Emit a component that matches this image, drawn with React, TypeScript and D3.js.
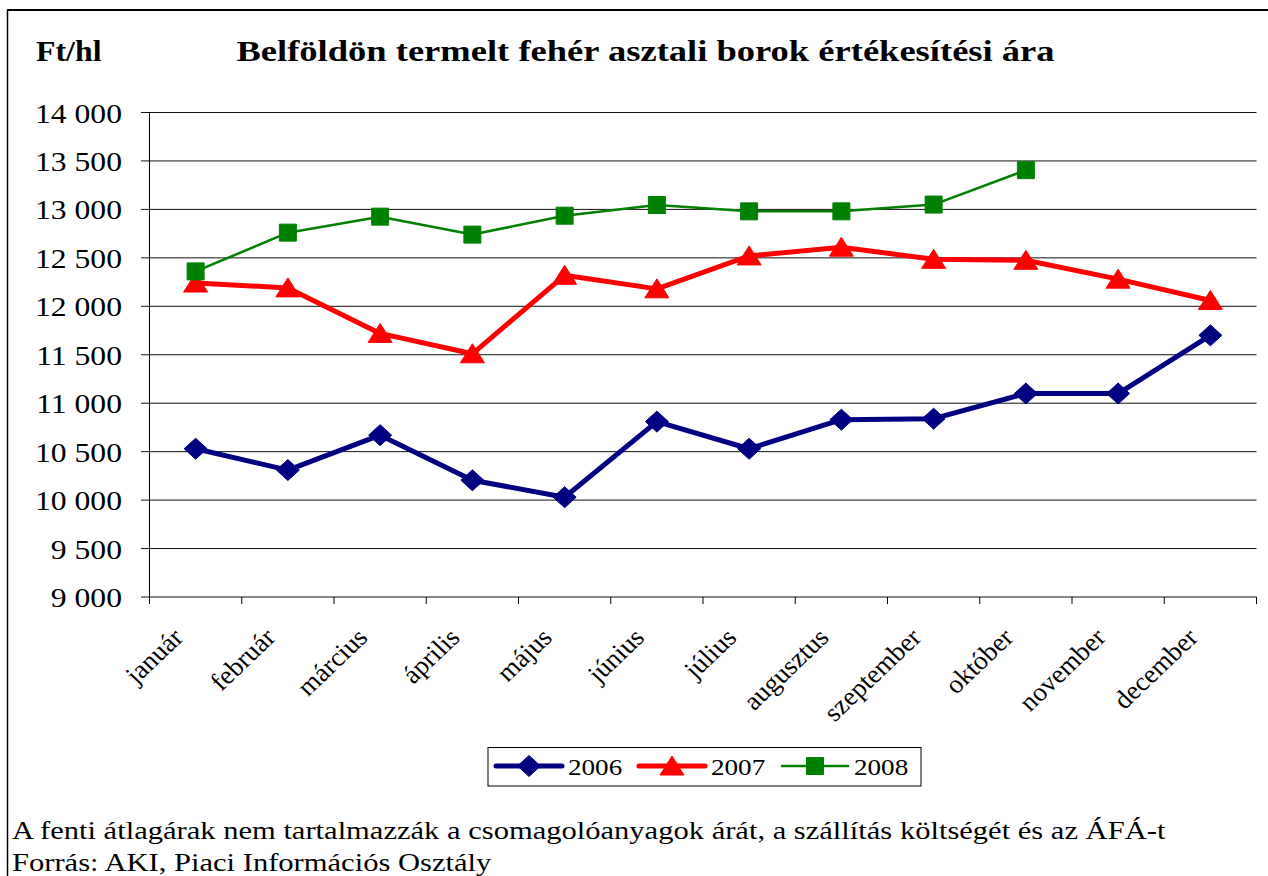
import React from "react";
import * as d3 from "d3";

const months = ["január","február","március","április","május","június","július","augusztus","szeptember","október","november","december"];
const yTicks = [9000, 9500, 10000, 10500, 11000, 11500, 12000, 12500, 13000, 13500, 14000];
const s2006 = [10530, 10310, 10670, 10205, 10030, 10810, 10530, 10830, 10840, 11100, 11100, 11700];
const s2007 = [12240, 12190, 11720, 11510, 12320, 12180, 12520, 12610, 12485, 12475, 12280, 12060];
const s2008 = [12360, 12760, 12925, 12740, 12935, 13045, 12980, 12980, 13050, 13405];
const seriesNames = ["2006", "2007", "2008"];

const FONT = "'Liberation Serif', 'Times New Roman', serif";
const SX = 1.13;

const W = 1268, H = 876;
const x = d3.scaleBand<string>().domain(months).range([149.5, 1256.5]);
const y = d3.scaleLinear().domain([9000, 14000]).range([597, 112.5]);
const loc = d3.formatLocale({ decimal: ",", thousands: " ", grouping: [3], currency: ["", ""] });
const fmt = loc.format(",");

const diamond = "M0,-10.5L11.5,0L0,10.5L-11.5,0Z";
const triangle = "M0,-10L12,9L-12,9Z";
const square = "M-8.5,-8.5H8.5V8.5H-8.5Z";

const styles = [
  { name: seriesNames[0], data: s2006, color: "#000080", width: 5, marker: diamond },
  { name: seriesNames[1], data: s2007, color: "#FF0000", width: 5, marker: triangle },
  { name: seriesNames[2], data: s2008, color: "#008000", width: 2.5, marker: square },
];

function T(props: { x: number; y: number; size: number; anchor?: string; bold?: boolean; rot?: number; sx?: number; children: any }) {
  const { x: tx, y: ty, size, anchor = "start", bold, rot, sx = SX, children } = props;
  const tr = `translate(${tx},${ty}) scale(${sx},1)` + (rot ? ` rotate(${rot})` : "");
  return (
    <text transform={tr} fontSize={size} fontFamily={FONT} fontWeight={bold ? "bold" : "normal"} textAnchor={anchor} fill="#000">
      {children}
    </text>
  );
}

export default function App() {
  const cx = (m: string) => (x(m) as number) + x.bandwidth() / 2;
  const line = d3.line<number>().x((_, i) => cx(months[i])).y((v) => y(v));
  const bounds = [...months.map((m) => x(m) as number), 1256.5];
  return (
    <svg width={W} height={H} style={{ position: "absolute", left: 0, top: 0, background: "#fff" }}>
      <rect x={0} y={0} width={W} height={H} fill="#fff" />
      {/* frame */}
      <line x1={7} x2={W} y1={10} y2={10} stroke="#000" strokeWidth={2} />
      <line x1={7.5} x2={7.5} y1={10} y2={H} stroke="#000" strokeWidth={1.5} />

      {/* titles */}
      <T x={36} y={61} size={29} bold sx={1.1}>Ft/hl</T>
      <T x={645.5} y={61} size={29} bold anchor="middle" sx={1.26}>Belföldön termelt fehér asztali borok értékesítési ára</T>

      {/* gridlines and y axis */}
      {yTicks.map((t) => (
        <g key={t}>
          <line x1={141} x2={1256.5} y1={y(t)} y2={y(t)} stroke="#111" strokeWidth={1} />
          <T x={122} y={y(t) + 10} size={28} anchor="end">{fmt(t)}</T>
        </g>
      ))}
      <line x1={149.5} x2={149.5} y1={y(14000)} y2={y(9000)} stroke="#000" strokeWidth={1} />
      {bounds.map((b, i) => (
        <line key={i} x1={b} x2={b} y1={597} y2={604} stroke="#000" strokeWidth={1} />
      ))}
      {months.map((m) => (
        <T key={m} x={cx(m) - 11} y={639} size={26} anchor="end" rot={-45} sx={1.05}>{m}</T>
      ))}

      {/* series */}
      {styles.map((s) => (
        <g key={s.name}>
          <path d={line(s.data) as string} fill="none" stroke={s.color} strokeWidth={s.width} strokeLinejoin="round" />
          {s.data.map((v, i) => (
            <path key={i} d={s.marker} transform={`translate(${cx(months[i])},${y(v)})`} fill={s.color} stroke={s.color} strokeWidth={1} strokeLinejoin="round" />
          ))}
        </g>
      ))}

      {/* legend */}
      <rect x={488} y={747.5} width={433} height={38.5} fill="#fff" stroke="#000" strokeWidth={1} />
      {styles.map((s, i) => {
        const x0 = 496 + i * 143;
        return (
          <g key={s.name}>
            <line x1={x0} x2={x0 + 66} y1={766} y2={766} stroke={s.color} strokeWidth={s.width} strokeLinecap="round" />
            <path d={s.marker} transform={`translate(${x0 + 33},766)`} fill={s.color} stroke={s.color} strokeWidth={1} />
            <T x={x0 + 72} y={775} size={24}>{s.name}</T>
          </g>
        );
      })}

      {/* footnote */}
      <T x={12} y={839} size={26} sx={1.175}>A fenti átlagárak nem tartalmazzák a csomagolóanyagok árát, a szállítás költségét és az ÁFÁ-t</T>
      <T x={12} y={871} size={26} sx={1.175}>Forrás: AKI, Piaci Információs Osztály</T>
    </svg>
  );
}
